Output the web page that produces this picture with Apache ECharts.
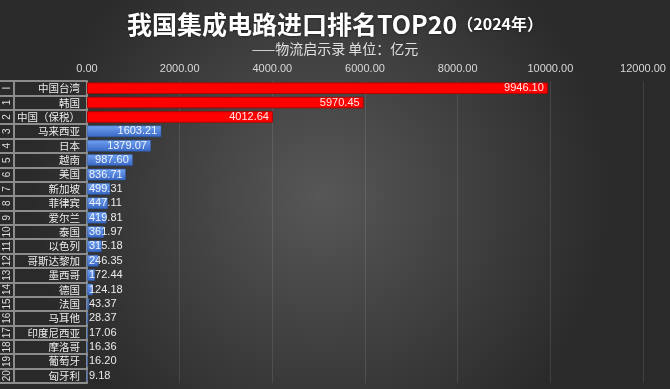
<!DOCTYPE html>
<html>
<head>
<meta charset="utf-8">
<script src="https://cdn.jsdelivr.net/npm/echarts@6/dist/echarts.min.js"></script>
<style>
html,body{margin:0;padding:0;background:#333;}
#chart{width:670px;height:389px;}
</style>
</head>
<body>
<div id="chart"></div>
<script>
const categories = ['中国台湾','韩国','中国（保税）','马来西亚','日本','越南','美国','新加坡','菲律宾','爱尔兰','泰国','以色列','哥斯达黎加','墨西哥','德国','法国','马耳他','印度尼西亚','摩洛哥','葡萄牙','匈牙利'];
const values = [9946.10,5970.45,4012.64,1603.21,1379.07,987.60,836.71,499.31,447.11,419.81,361.97,315.18,246.35,172.44,124.18,43.37,28.37,17.06,16.36,16.20,9.18];
const rankLabels = ['I','1','2','3','4','5','6','7','8','9','10','11','12','13','14','15','16','17','18','19','20'];
const xTicks = {min:0, max:12000, interval:2000};

const chart = echarts.init(document.getElementById('chart'));
const blue = new echarts.graphic.LinearGradient(0,0,0,1,[
  {offset:0,color:'#72a2f2'},{offset:1,color:'#3767c4'}
]);
const seriesData = values.map((v,i)=>({
  value:v,
  itemStyle: i<3 ? {color:'#ff0000', borderColor:'#b80000', borderWidth:1} : {color:blue, borderColor:'#2d58a8', borderWidth:0.5},
  label: v>900 ? {position:'insideRight', distance:4} : {position:'insideLeft', distance:2}
}));

chart.setOption({
  backgroundColor: new echarts.graphic.RadialGradient(0.48,0.5,0.75,[
    {offset:0,color:'#575757'},{offset:1,color:'#2a2a2a'}
  ]),
  title:[
    {text:'{a|我国集成电路进口排名TOP20}{b|（2024年）}', left:'center', top:4,
     textStyle:{rich:{
       a:{fontSize:25,fontWeight:'bold',color:'#ffffff',fontFamily:'Noto Sans CJK SC',lineHeight:30,textShadowColor:'rgba(0,0,0,0.6)',textShadowBlur:3},
       b:{fontSize:16,fontWeight:'bold',color:'#ffffff',fontFamily:'Noto Sans CJK SC',lineHeight:30,textShadowColor:'rgba(0,0,0,0.6)',textShadowBlur:3}
     }}},
    {text:'——物流启示录 单位：亿元', left:'center', top:36,
     textStyle:{fontSize:14,fontWeight:'normal',color:'#e0e0e0',fontFamily:'Noto Sans CJK SC',lineHeight:16}}
  ],
  grid:{left:87,right:27,top:81,bottom:6,containLabel:false},
  xAxis:{
    type:'value', position:'top', min:xTicks.min, max:xTicks.max, interval:xTicks.interval,
    axisLine:{show:false}, axisTick:{show:false},
    axisLabel:{color:'#d8d8d8',fontSize:11,margin:7,fontFamily:'Liberation Sans',formatter:v=>v.toFixed(2)},
    splitLine:{show:true,lineStyle:{color:'rgba(255,255,255,0.10)',width:1}}
  },
  yAxis:[
    {type:'category', inverse:true, data:categories,
     axisLine:{show:true,lineStyle:{color:'#8c8c8c',width:2}},
     axisTick:{show:true,interval:0,length:87,lineStyle:{color:'#8c8c8c',width:2}},
     axisLabel:{interval:0,color:'#eeeeee',fontSize:10.5,margin:7,fontFamily:'Noto Sans CJK SC'}
    },
    {type:'category', inverse:true, data:rankLabels, position:'left', offset:73,
     axisLine:{show:true,lineStyle:{color:'#8c8c8c',width:2}},
     axisTick:{show:false},
     axisLabel:{interval:0,color:'#dddddd',fontSize:10,rotate:90,margin:2,fontFamily:'Liberation Sans'}
    }
  ],
  series:[{
    type:'bar', yAxisIndex:0, data:seriesData, barWidth:'80%',
    label:{show:true,color:'rgba(255,255,255,0.9)',fontSize:11,fontFamily:'Liberation Sans',formatter:p=>p.value.toFixed(2)}
  }]
});
</script>
</body>
</html>
